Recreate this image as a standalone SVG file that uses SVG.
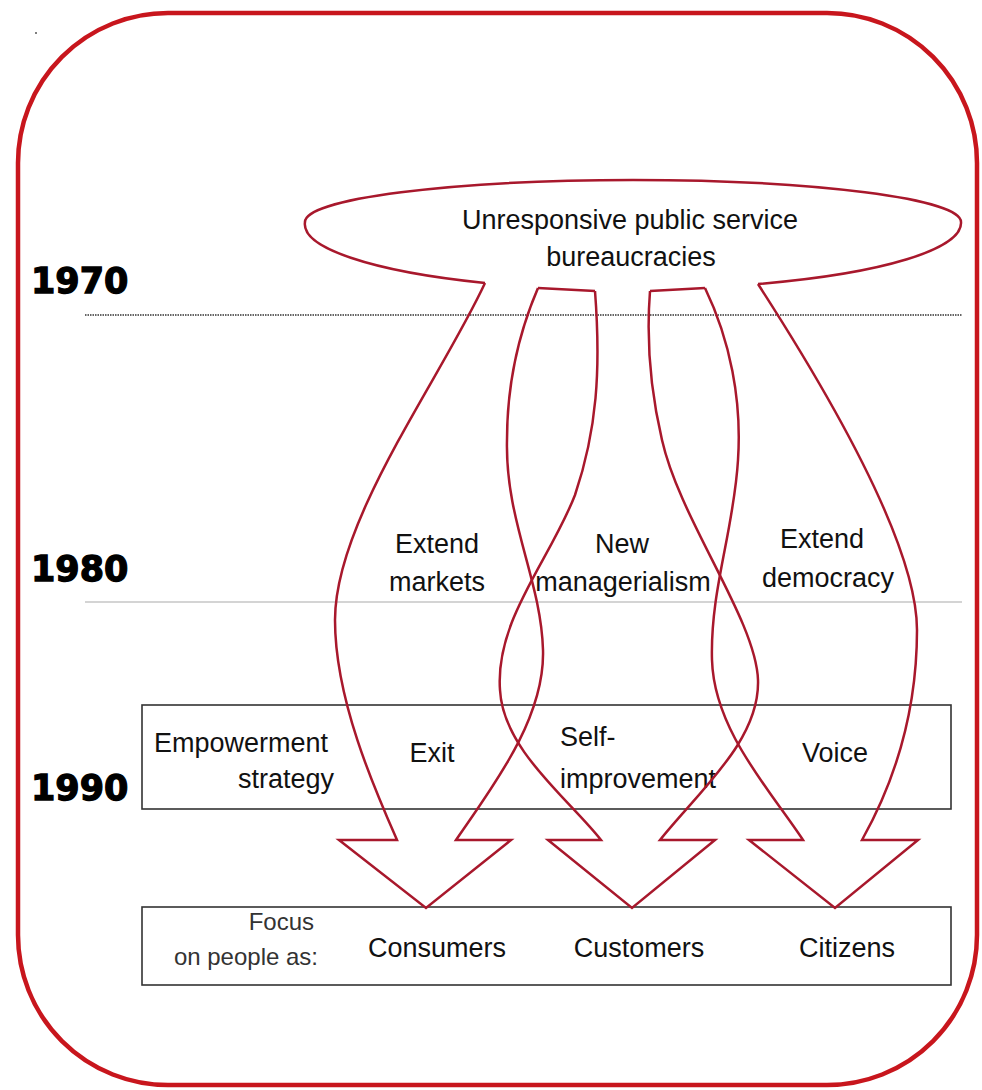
<svg xmlns="http://www.w3.org/2000/svg" width="982" height="1090" viewBox="0 0 982 1090">
<style>
.t{font-family:"Liberation Sans",Arial,sans-serif;font-size:27px;fill:#111}
.s{font-family:"Liberation Sans",Arial,sans-serif;font-size:24px;fill:#333}
.yr{font-family:"DejaVu Sans",sans-serif;font-weight:bold;font-size:35px;fill:#000;stroke:#000;stroke-width:1.3}
.m{text-anchor:middle}
.e{text-anchor:end}
.red{fill:none;stroke:#a8182c;stroke-width:2.5;stroke-linejoin:miter}
.box{fill:none;stroke:#333;stroke-width:1.6}
</style>
<rect width="982" height="1090" fill="#fff"/>
<g id="frame">
<rect x="18" y="13" width="959" height="1072" rx="150" ry="150" fill="none" stroke="#c8161d" stroke-width="4.5"/>
<circle cx="36" cy="33" r="1" fill="#555"/>
</g>
<g id="timeline">
<line x1="85" y1="315" x2="962" y2="315" stroke="#333" stroke-width="1.4" stroke-dasharray="1.5 1"/>
<line x1="85" y1="602" x2="962" y2="602" stroke="#aaa" stroke-width="1.2"/>
<text class="yr" x="31" y="293">1970</text>
<text class="yr" x="31" y="581">1980</text>
<text class="yr" x="31" y="800">1990</text>
</g>
<g id="node-bureaucracies">
<path class="red" d="M758,284 A328,66 0 0,0 961,222 A328,42 0 0,0 305,222 A328,66 0 0,0 485,283 M538,288 L595,291 M650,291 L705,288"/>
<text class="t m" x="630" y="229">Unresponsive public service</text>
<text class="t m" x="631" y="266">bureaucracies</text>
</g>
<g id="labels-strategies">
<text class="t m" x="437" y="553">Extend</text>
<text class="t m" x="437" y="591">markets</text>
<text class="t m" x="622" y="553">New</text>
<text class="t m" x="623" y="591">managerialism</text>
<text class="t m" x="822" y="548">Extend</text>
<text class="t m" x="828" y="587">democracy</text>
</g>
<g id="node-empowerment">
<rect class="box" x="142" y="705" width="809" height="104"/>
<text class="t e" x="328" y="752">Empowerment</text>
<text class="t e" x="334" y="788">strategy</text>
<text class="t m" x="432" y="762">Exit</text>
<text class="t" x="560" y="746">Self-</text>
<text class="t" x="560" y="788">improvement</text>
<text class="t m" x="835" y="762">Voice</text>
</g>
<g id="node-focus">
<rect class="box" x="142" y="907" width="809" height="78"/>
<text class="s e" x="314" y="930">Focus</text>
<text class="s e" x="318" y="965">on people as:</text>
<text class="t m" x="437" y="957">Consumers</text>
<text class="t m" x="639" y="957">Customers</text>
<text class="t m" x="847" y="957">Citizens</text>
</g>
<g id="connectors">
<path id="arrow-markets" class="red" d="M485,283 C440,380 335,520 335,620 C335,700 375,790 397,840 L339,840 L426,908 L511,840 L456,840 C490,790 545,720 543,650 C541,580 505,520 507,440 C507,380 520,330 538,288"/>
<path id="arrow-managerialism" class="red" d="M595,291 C601,370 597,430 575,495 C550,560 495,620 500,690 C503,750 570,800 601,840 L548,840 L632,908 L715,840 L660,840 C700,790 760,740 758,680 C756,620 680,520 662,440 C648,380 647,330 650,291"/>
<path id="arrow-democracy" class="red" d="M705,288 C730,340 742,400 738,460 C734,530 710,590 712,660 C714,730 770,790 803,840 L749,840 L835,908 L918,840 L862,840 C890,790 917,720 917,630 C917,540 820,380 758,284"/>
</g>
</svg>
